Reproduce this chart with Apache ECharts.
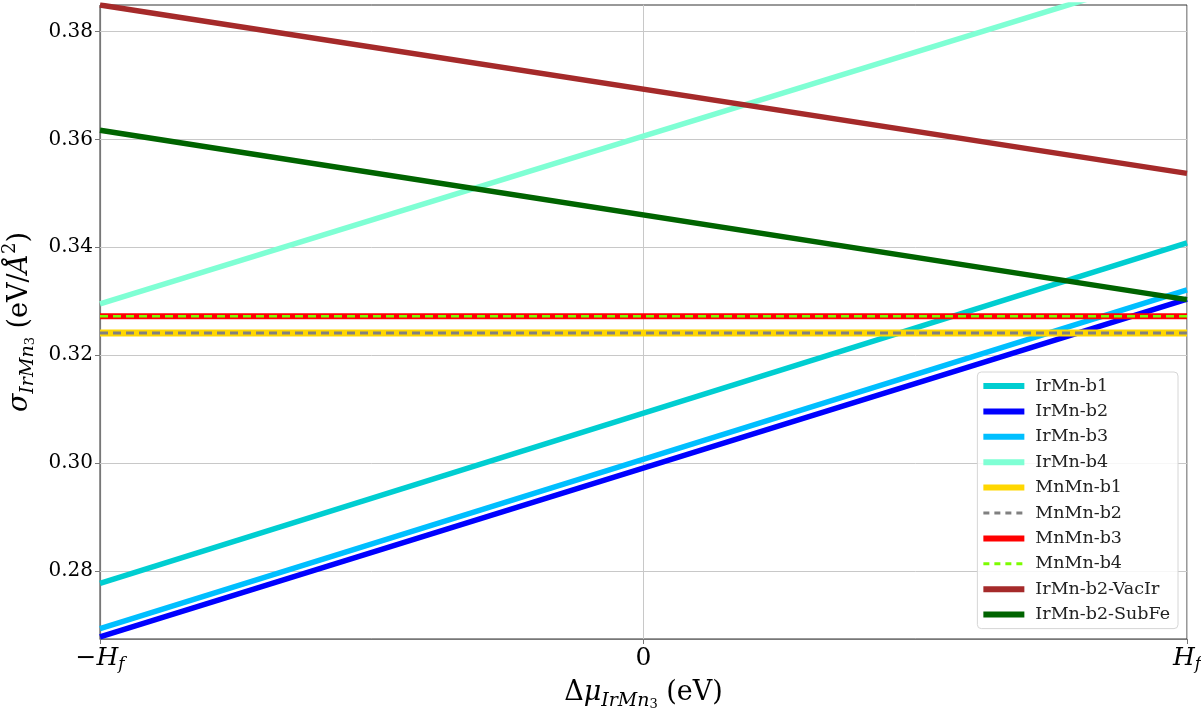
<!DOCTYPE html>
<html>
<head>
<meta charset="utf-8">
<script src="https://cdn.jsdelivr.net/npm/echarts@6/dist/echarts.min.js"></script>
<style>
  html, body { margin: 0; padding: 0; background: #fff; }
  #chart { width: 1201px; height: 709px; }
</style>
</head>
<body>
<div id="chart"></div>
<script>
// Chemical-potential range: -Hf .. Hf, expressed in units of Hf
const xEnds = [-1, 1];
const xTicks = [-1, 0, 1];
// Surface-energy tick marks (eV/Å^2)
const yTicks = [0.28, 0.30, 0.32, 0.34, 0.36, 0.38];

// Surface energies (eV/Å^2) at -Hf and +Hf for each termination
const seriesNames = [
  'IrMn-b1', 'IrMn-b2', 'IrMn-b3', 'IrMn-b4',
  'MnMn-b1', 'MnMn-b2', 'MnMn-b3', 'MnMn-b4',
  'IrMn-b2-VacIr', 'IrMn-b2-SubFe'
];
const irmnB1 = [0.2777, 0.3408];
const irmnB2 = [0.2678, 0.3304];
const irmnB3 = [0.2693, 0.3321];
const irmnB4 = [0.3295, 0.3917];
const mnmnB1 = [0.3241, 0.3241];
const mnmnB2 = [0.3241, 0.3241];
const mnmnB3 = [0.3272, 0.3272];
const mnmnB4 = [0.3272, 0.3272];
const vacIr  = [0.3849, 0.3537];
const subFe  = [0.3617, 0.3303];

const values = [irmnB1, irmnB2, irmnB3, irmnB4, mnmnB1, mnmnB2, mnmnB3, mnmnB4, vacIr, subFe];
const colors = ['#00CED1', '#0000FF', '#00BFFF', '#7FFFD4', '#FFD700', '#808080', '#FF0000', '#7CFC00', '#A52A2A', '#006400'];
const widths = [5.5, 5.5, 5.5, 5.5, 7, 3, 6, 2.5, 5.5, 5.5];
const legendWidths = [6, 6, 6, 6, 6, 3, 6, 3, 6, 6];
const dashed = [false, false, false, false, false, true, false, true, false, false];

const yMin = 0.2674, yMax = 0.3849;

const serif = 'DejaVu Serif';

const series = seriesNames.map((name, i) => ({
  name: name,
  type: 'line',
  data: xEnds.map((x, k) => [x, values[i][k]]),
  showSymbol: false,
  symbol: 'none',
  clip: true,
  silent: true,
  animation: false,
  z: 3 + i,
  lineStyle: {
    color: colors[i],
    width: widths[i],
    type: dashed[i] ? [8, 5] : 'solid',
    cap: 'butt'
  },
  itemStyle: { color: colors[i] }
}));

// Horizontal grid lines at the labelled surface-energy values
series.push({
  type: 'line',
  data: [],
  silent: true,
  z: 1,
  markLine: {
    silent: true,
    z: 1,
    symbol: ['none', 'none'],
    label: { show: false },
    lineStyle: { color: '#c8c8c8', width: 1, type: 'solid' },
    data: yTicks.map((v) => ({ yAxis: v }))
  }
});

const tickRich = {
  i: { fontFamily: serif, fontStyle: 'italic', fontSize: 25, color: '#000', lineHeight: 30 },
  n: { fontFamily: serif, fontSize: 25, color: '#000', lineHeight: 30 },
  s: { fontFamily: serif, fontStyle: 'italic', fontSize: 17, color: '#000', lineHeight: 14, verticalAlign: 'bottom' }
};

const nameRich = {
  i: { fontFamily: serif, fontStyle: 'italic', fontSize: 27, color: '#000', lineHeight: 36 },
  n: { fontFamily: serif, fontSize: 27, color: '#000', lineHeight: 36 },
  s: { fontFamily: serif, fontStyle: 'italic', fontSize: 19, color: '#000', lineHeight: 20, verticalAlign: 'bottom' },
  ss: { fontFamily: serif, fontSize: 13, color: '#000', lineHeight: 11, verticalAlign: 'bottom' },
  a: { fontFamily: serif, fontStyle: 'italic', fontSize: 27, color: '#000', lineHeight: 36 },
  sup: { fontFamily: serif, fontSize: 18, color: '#000', lineHeight: 18, verticalAlign: 'top' }
};

const chart = echarts.init(document.getElementById('chart'), null, { renderer: 'canvas' });
chart.setOption({
  animation: false,
  backgroundColor: '#ffffff',
  grid: {
    left: 100, right: 14, top: 5, bottom: 70,
    outerBoundsMode: 'none',
    containLabel: false,
    show: true, borderColor: '#333', borderWidth: 1, backgroundColor: 'transparent'
  },
  legend: {
    orient: 'vertical',
    right: 23, top: 372,
    z: 30,
    backgroundColor: 'rgba(255,255,255,0.85)',
    borderColor: '#d6d6d6',
    borderWidth: 1,
    borderRadius: 4,
    padding: [4, 8, 4, 3],
    itemWidth: 41,
    itemHeight: 6,
    itemGap: 5.4,
    itemStyle: { opacity: 0 },
    textStyle: { fontFamily: serif, fontSize: 17.5, color: '#222', lineHeight: 20, padding: [0, 0, 0, 6] },
    data: seriesNames.map((n, i) => ({
      name: n,
      itemStyle: { opacity: 0 },
      lineStyle: {
        width: legendWidths[i],
        color: colors[i],
        type: dashed[i] ? [6, 5] : 'solid',
        cap: 'butt'
      }
    })),
    selectedMode: false
  },
  xAxis: {
    type: 'value',
    min: -1, max: 1, interval: 1,
    name: '{n|Δ}{i|μ}{s|IrMn}{ss|3}{n| (eV)}',
    nameLocation: 'middle',
    nameGap: 36,
    nameTextStyle: { rich: nameRich },
    axisLine: { show: true, onZero: false, lineStyle: { color: '#777', width: 1.2 } },
    axisTick: { show: true, inside: false, length: 5, lineStyle: { color: '#777' } },
    splitLine: { show: true, lineStyle: { color: '#c8c8c8', width: 1 } },
    axisLabel: {
      margin: 4,
      formatter: (v) => v === 0 ? '{n|0}' : (v < 0 ? '{n|−}{i|H}{s|f}' : '{i|H}{s|f}'),
      rich: tickRich
    }
  },
  yAxis: {
    type: 'value',
    min: yMin, max: yMax,
    name: '{i|σ}{s|IrMn}{ss|3}{n| (eV/}{a|Å}{sup|2}{n|)}',
    nameLocation: 'middle',
    nameRotate: 90,
    nameGap: 48,
    nameTextStyle: { rich: nameRich },
    axisLine: { show: true, onZero: false, lineStyle: { color: '#777', width: 1.2 } },
    axisTick: { show: true, inside: false, length: 5, customValues: yTicks, lineStyle: { color: '#777' } },
    splitLine: { show: false },
    axisLabel: {
      margin: 7,
      fontFamily: serif, fontSize: 20, color: '#000',
      customValues: yTicks,
      formatter: (v) => v.toFixed(2)
    }
  },
  series: series
});
</script>
</body>
</html>
